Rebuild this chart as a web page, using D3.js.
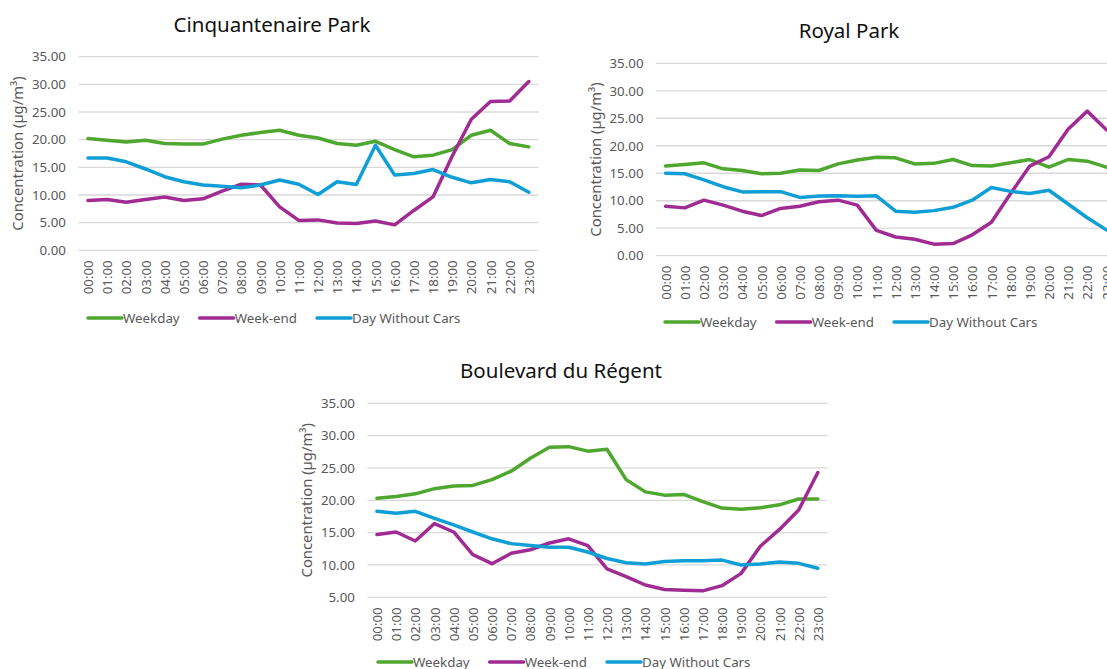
<!DOCTYPE html>
<html><head><meta charset="utf-8">
<script src="https://cdn.jsdelivr.net/npm/d3@7"></script>
<style>
html,body{margin:0;padding:0;background:#fff;overflow:hidden}
svg{display:block;font-family:"Noto Sans",sans-serif}
</style></head>
<body>
<svg id="chart" width="1107" height="669"></svg>
<script>
const hours = ["00:00","01:00","02:00","03:00","04:00","05:00","06:00","07:00","08:00","09:00","10:00","11:00",
               "12:00","13:00","14:00","15:00","16:00","17:00","18:00","19:00","20:00","21:00","22:00","23:00"];
const seriesNames = ["Weekday","Week-end","Day Without Cars"];
const seriesColors = ["#4EA72E","#A02B93","#0F9ED5"];

const cinqWeekday = [20.2,19.9,19.6,19.9,19.3,19.2,19.2,20.1,20.8,21.3,21.7,20.8,20.3,19.3,19.0,19.7,18.2,16.9,17.2,18.2,20.8,21.7,19.3,18.7];
const cinqWeekend = [9.0,9.2,8.7,9.2,9.65,9.0,9.3,10.7,11.95,11.8,7.85,5.4,5.5,4.95,4.85,5.3,4.6,7.2,9.65,17.0,23.7,26.9,27.0,30.5];
const cinqNoCars  = [16.7,16.7,16.0,14.7,13.3,12.4,11.8,11.6,11.3,11.8,12.7,11.95,10.1,12.4,11.9,19.0,13.6,13.9,14.6,13.2,12.2,12.8,12.4,10.5];

const royalWeekday = [16.3,16.6,16.9,15.8,15.5,14.9,15.0,15.6,15.5,16.7,17.4,17.9,17.8,16.7,16.8,17.5,16.4,16.3,16.9,17.5,16.1,17.5,17.2,16.1];
const royalWeekend = [9.0,8.7,10.1,9.2,8.1,7.3,8.6,9.0,9.8,10.1,9.2,4.6,3.4,3.0,2.1,2.2,3.8,6.1,11.3,16.3,18.0,23.0,26.3,22.9];
const royalNoCars  = [15.0,14.9,13.8,12.55,11.6,11.65,11.65,10.6,10.85,10.9,10.8,10.9,8.1,7.9,8.2,8.8,10.1,12.4,11.7,11.3,11.9,9.4,6.9,4.7];

const boulWeekday = [20.3,20.6,21.0,21.8,22.2,22.3,23.2,24.5,26.5,28.2,28.3,27.6,27.9,23.2,21.3,20.8,20.9,19.8,18.8,18.6,18.85,19.3,20.2,20.2];
const boulWeekend = [14.7,15.1,13.7,16.4,15.1,11.6,10.2,11.8,12.35,13.4,14.05,13.0,9.4,8.2,6.9,6.2,6.1,6.0,6.8,8.7,12.9,15.5,18.5,24.3];
const boulNoCars  = [18.3,18.0,18.3,17.2,16.2,15.1,14.05,13.3,13.0,12.75,12.75,12.0,11.0,10.35,10.15,10.55,10.65,10.65,10.75,10.0,10.15,10.45,10.25,9.5];

const titles = ["Cinquantenaire Park","Royal Park","Boulevard du Régent"];
const yDomains = [[0,35],[0,35],[5,35]];
const yTickValues = [[0,5,10,15,20,25,30,35],[0,5,10,15,20,25,30,35],[5,10,15,20,25,30,35]];
const yAxisTitle = "Concentration (µg/m³)";

const charts = [
  {title:titles[0], data:[cinqWeekday,cinqWeekend,cinqNoCars], yDomain:yDomains[0], ticks:yTickValues[0],
   x0:78.4, x1:538.4, yBottom:250.3, yTop:56.7, titleX:272, titleY:31.7, yTitleX:18, legendY:318, legendX:88},
  {title:titles[1], data:[royalWeekday,royalWeekend,royalNoCars], yDomain:yDomains[1], ticks:yTickValues[1],
   x0:656, x1:1116, yBottom:255.7, yTop:63.3, titleX:849, titleY:37.5, yTitleX:596, legendY:322, legendX:665},
  {title:titles[2], data:[boulWeekday,boulWeekend,boulNoCars], yDomain:yDomains[2], ticks:yTickValues[2],
   x0:367.4, x1:827.4, yBottom:597.3, yTop:403.3, titleX:561, titleY:377.5, yTitleX:307, legendY:662, legendX:378}
];

const svg = d3.select("#chart");
svg.append("rect").attr("width",1107).attr("height",669).attr("fill","#fff");

charts.forEach(c => {
  const g = svg.append("g");
  const x = d3.scalePoint().domain(hours).range([c.x0, c.x1]).padding(0.5);
  const y = d3.scaleLinear().domain(c.yDomain).range([c.yBottom, c.yTop]);

  // gridlines
  g.selectAll("line.grid").data(c.ticks).join("line")
    .attr("x1", c.x0).attr("x2", c.x1)
    .attr("y1", d => y(d)).attr("y2", d => y(d))
    .attr("stroke", "#D9D9D9").attr("stroke-width", 1.3);

  // y axis labels
  const yAxis = d3.axisLeft(y).tickValues(c.ticks).tickFormat(d3.format(".2f")).tickSize(0).tickPadding(12.5);
  const ya = g.append("g").attr("transform", `translate(${c.x0},0)`).call(yAxis);
  ya.select(".domain").remove();
  ya.selectAll("text").attr("fill","#595959").attr("font-size","13.3px").attr("font-family","Noto Sans, sans-serif");

  // x axis labels
  const xAxis = d3.axisBottom(x).tickSize(0).tickPadding(0);
  const xa = g.append("g").attr("transform", `translate(0,${c.yBottom})`).call(xAxis);
  xa.select(".domain").remove();
  xa.selectAll("text")
    .attr("fill","#595959").attr("font-size","13.3px").attr("font-family","Noto Sans, sans-serif")
    .attr("text-anchor","end")
    .attr("transform","translate(0,10) rotate(-90)")
    .attr("x",0).attr("y",0).attr("dy","0.35em");

  // y axis title
  g.append("text")
    .attr("transform", `translate(${c.yTitleX},${(c.yTop + c.yBottom)/2}) rotate(-90)`)
    .attr("text-anchor","middle").attr("dy","0.35em")
    .attr("fill","#595959").attr("font-size","14.8px")
    .text(yAxisTitle);

  // title
  g.append("text").attr("x", c.titleX).attr("y", c.titleY)
    .attr("text-anchor","middle").attr("fill","#111").attr("font-size","20.5px")
    .text(c.title);

  // lines
  const line = d3.line().x((d,i) => x(hours[i])).y(d => y(d)).curve(d3.curveLinear);
  c.data.forEach((s, k) => {
    g.append("path").datum(s)
      .attr("d", line).attr("fill","none")
      .attr("stroke", seriesColors[k]).attr("stroke-width", 3.5)
      .attr("stroke-linejoin","round").attr("stroke-linecap","round");
  });

  // legend
  let lx = c.legendX;
  seriesNames.forEach((name, k) => {
    g.append("line").attr("x1", lx).attr("x2", lx + 34)
      .attr("y1", c.legendY).attr("y2", c.legendY)
      .attr("stroke", seriesColors[k]).attr("stroke-width", 3.5).attr("stroke-linecap","round");
    const t = g.append("text").attr("x", lx + 35).attr("y", c.legendY).attr("dy","0.35em")
      .attr("fill","#595959").attr("font-size","13.3px").text(name);
    lx = lx + 35 + t.node().getComputedTextLength() + 20;
  });
});
</script>
</body></html>
